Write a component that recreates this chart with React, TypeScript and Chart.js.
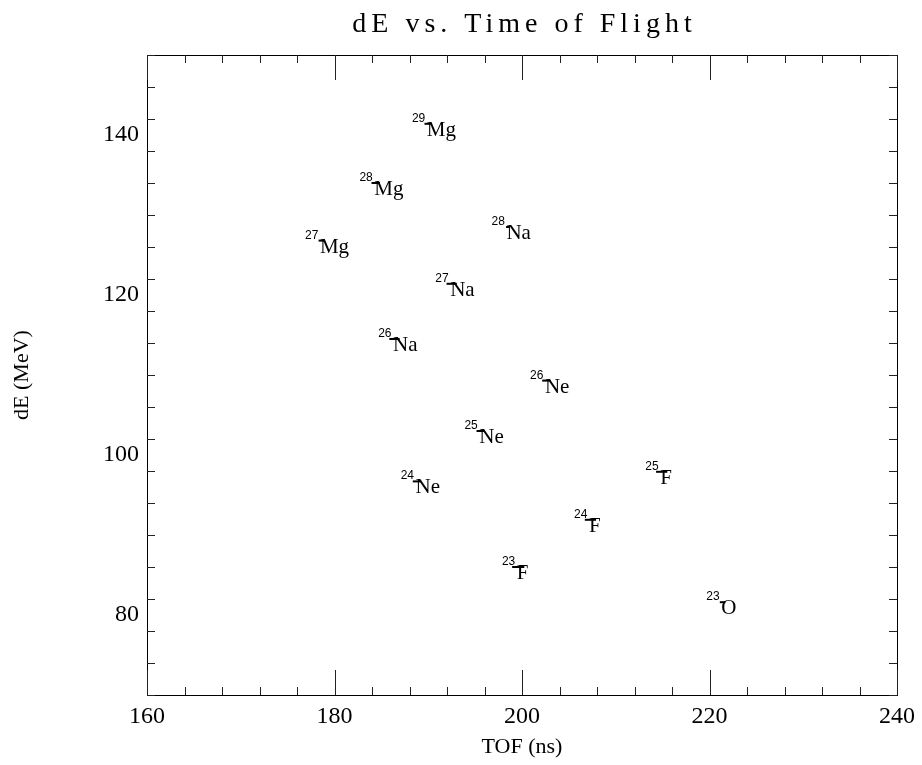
import React, { useEffect, useRef } from "react";
import { Chart, registerables } from "chart.js";

Chart.register(...registerables);

// ---- data ----
const massNumbers = [29, 28, 28, 27, 27, 26, 26, 25, 24, 25, 24, 23, 23];
const elements = ["Mg", "Mg", "Na", "Mg", "Na", "Na", "Ne", "Ne", "Ne", "F", "F", "F", "O"];
const tofValues = [190.0, 184.4, 198.5, 178.6, 192.5, 186.4, 202.6, 195.6, 188.8, 214.9, 207.3, 199.6, 221.4];
const dEValues = [141.4, 134.0, 128.5, 126.8, 121.4, 114.5, 109.3, 103.0, 96.7, 97.9, 91.9, 86.0, 81.6];
const tofErrors = [0.4, 0.45, 0.2, 0.3, 0.55, 0.55, 0.45, 0.45, 0.45, 0.6, 0.6, 0.65, 0.3];

const xTickValues = [160, 180, 200, 220, 240];
const yTickValues = [80, 100, 120, 140];
const xRange = [160, 240];
const yRange = [70, 150];
const minorStep = 4;

const titleText = "dE vs. Time of Flight";
const xTitle = "TOF (ns)";
const yTitle = "dE (MeV)";

const framePlugin = {
  id: "frameTicks",
  afterDraw(chart: any) {
    const { ctx, chartArea } = chart;
    const xs = chart.scales.x;
    const ys = chart.scales.y;
    const { left, right, top, bottom } = chartArea;
    ctx.save();
    // title
    ctx.font = '28px "Liberation Serif"';
    ctx.fillStyle = "#000";
    (ctx as any).letterSpacing = "5px";
    ctx.textAlign = "left";
    ctx.textBaseline = "alphabetic";
    const w = ctx.measureText(titleText).width - 5;
    ctx.fillText(titleText, (left + right) / 2 - w / 2, top - 23);
    (ctx as any).letterSpacing = "0px";

    // frame
    ctx.strokeStyle = "#000";
    ctx.lineWidth = 1;
    ctx.strokeRect(Math.round(left) + 0.5, Math.round(top) + 0.5, Math.round(right - left), Math.round(bottom - top));

    ctx.strokeStyle = "#222";
    ctx.beginPath();
    for (let v = xRange[0]; v <= xRange[1] + 1e-6; v += minorStep) {
      const px = Math.round(xs.getPixelForValue(v)) + 0.5;
      const major = xTickValues.includes(v);
      const len = major ? 25 : 8;
      ctx.moveTo(px, bottom);
      ctx.lineTo(px, bottom - len);
      ctx.moveTo(px, top);
      ctx.lineTo(px, top + len);
    }
    for (let v = yRange[0]; v <= yRange[1] + 1e-6; v += minorStep) {
      const py = Math.round(ys.getPixelForValue(v)) + 0.5;
      const major = yTickValues.includes(v);
      const len = major ? 22 : 8;
      ctx.moveTo(left, py);
      ctx.lineTo(left + len, py);
      ctx.moveTo(right, py);
      ctx.lineTo(right - len, py);
    }
    ctx.stroke();
    ctx.restore();
  },
};

const labelPlugin = {
  id: "isotopeLabels",
  afterDatasetsDraw(chart: any) {
    const { ctx } = chart;
    const xs = chart.scales.x;
    const meta = chart.getDatasetMeta(0);
    ctx.save();
    ctx.fillStyle = "#000";
    ctx.strokeStyle = "#000";
    meta.data.forEach((pt: any, i: number) => {
      const px = pt.x;
      const py = pt.y;
      const x1 = xs.getPixelForValue(tofValues[i] - tofErrors[i]);
      const x2 = xs.getPixelForValue(tofValues[i] + tofErrors[i]);
      ctx.lineWidth = 2;
      ctx.beginPath();
      ctx.moveTo(x1, py);
      ctx.lineTo(x2, py);
      ctx.stroke();
      ctx.font = '12px "Liberation Sans"';
      ctx.textAlign = "right";
      ctx.textBaseline = "alphabetic";
      ctx.fillText(String(massNumbers[i]), px - 3, py - 2);
      ctx.font = '21px "Liberation Serif"';
      ctx.textAlign = "left";
      ctx.fillText(elements[i], px - 1.5, py + 12);
    });
    ctx.restore();
  },
};

export default function App() {
  const ref = useRef<HTMLCanvasElement>(null);
  useEffect(() => {
    if (!ref.current) return;
    const chart = new Chart(ref.current, {
      type: "scatter",
      data: {
        datasets: [
          {
            label: "isotopes",
            data: tofValues.map((x, i) => ({ x, y: dEValues[i] })),
            pointRadius: 0,
            showLine: false,
          },
        ],
      },
      options: {
        responsive: false,
        animation: false,
        events: [],
        layout: { padding: { top: 55, right: 24, left: 0, bottom: 0 } },
        plugins: { legend: { display: false }, tooltip: { enabled: false }, title: { display: false } },
        scales: {
          x: {
            type: "linear",
            position: "bottom",
            min: xRange[0],
            max: xRange[1],
            afterBuildTicks: (s: any) => {
              s.ticks = xTickValues.map((v) => ({ value: v }));
            },
            afterFit: (s: any) => {
              s.height = 70;
            },
            grid: { display: false, drawTicks: false },
            border: { display: true, color: "#000", width: 1 },
            ticks: {
              padding: 7,
              color: "#000",
              font: { family: "Liberation Serif", size: 24 },
              maxRotation: 0,
              callback: (v: any) => String(v),
            },
            title: {
              display: true,
              text: xTitle,
              color: "#000",
              font: { family: "Liberation Serif", size: 22 },
              padding: { top: 0, bottom: 5 },
            },
          },
          y: {
            type: "linear",
            position: "left",
            min: yRange[0],
            max: yRange[1],
            afterBuildTicks: (s: any) => {
              s.ticks = yTickValues.map((v) => ({ value: v }));
            },
            afterFit: (s: any) => {
              s.width = 147;
            },
            grid: { display: false, drawTicks: false },
            border: { display: true, color: "#000", width: 1 },
            ticks: {
              padding: 8,
              color: "#000",
              font: { family: "Liberation Serif", size: 24 },
              callback: (v: any) => String(v),
            },
            title: {
              display: true,
              text: yTitle,
              color: "#000",
              font: { family: "Liberation Serif", size: 22 },
              padding: { top: 9, bottom: 0 },
            },
          },
        },
      },
      plugins: [framePlugin, labelPlugin],
    });
    return () => chart.destroy();
  }, []);
  return (
    <div style={{ position: "absolute", left: 0, top: 0, width: 922, height: 765, background: "#fff" }}>
      <canvas ref={ref} width={922} height={765} style={{ width: 922, height: 765, display: "block" }} />
    </div>
  );
}
